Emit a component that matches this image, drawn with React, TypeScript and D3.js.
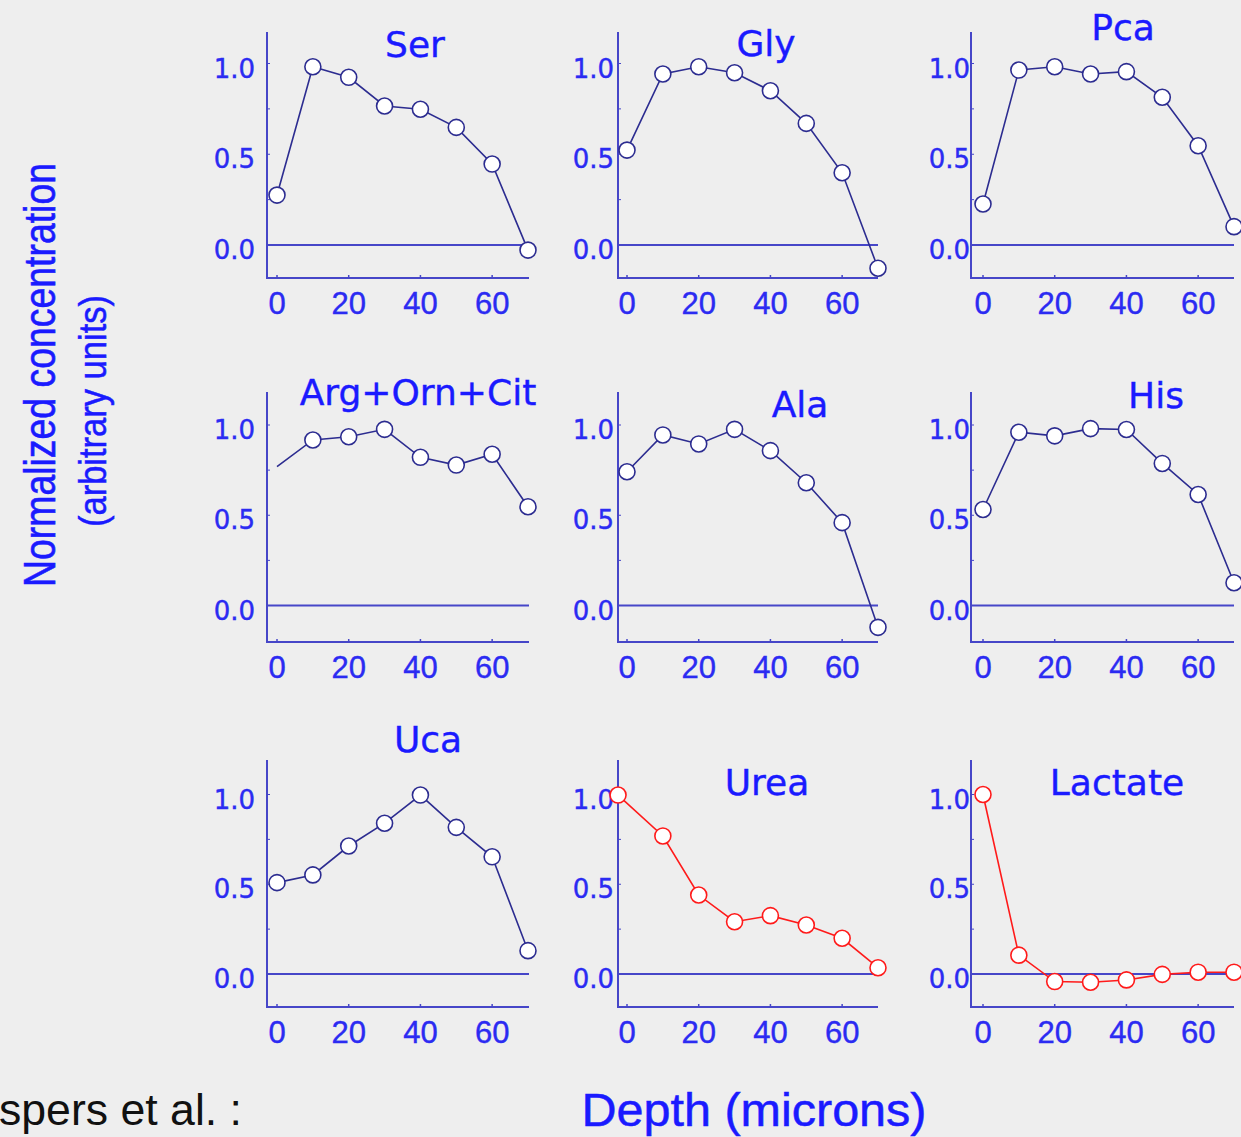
import React from "react";
import * as d3 from "d3";

// depth in microns, shared by all panels
const depth = [0, 10, 20, 30, 40, 50, 60, 70];
const ureaDepth = [-2.5, 10, 20, 30, 40, 50, 60, 70];

// normalized concentrations
const ser = [0.275, 0.982, 0.924, 0.766, 0.748, 0.648, 0.446, -0.028];
const gly = [0.523, 0.942, 0.982, 0.949, 0.85, 0.67, 0.398, -0.128];
const pca = [0.226, 0.964, 0.982, 0.942, 0.955, 0.814, 0.547, 0.101];
const argOrnCit = [0.769, 0.917, 0.935, 0.976, 0.821, 0.778, 0.838, 0.547];
const ala = [0.741, 0.945, 0.895, 0.976, 0.858, 0.68, 0.459, -0.121];
const his = [0.532, 0.96, 0.94, 0.98, 0.975, 0.787, 0.615, 0.126];
const uca = [0.509, 0.552, 0.713, 0.84, 0.997, 0.817, 0.653, 0.13];
const urea = [0.997, 0.769, 0.44, 0.291, 0.325, 0.273, 0.199, 0.035];
const lactate = [1.0, 0.105, -0.042, -0.046, -0.033, -0.002, 0.01, 0.01];

const yTickLabels = ["0.0", "0.5", "1.0"];
const yTicks = [0, 0.5, 1];
const xTicks = [0, 20, 40, 60];

const BLUE_TEXT = "#1a1aff";
const TICK_TEXT = "#2b2bf2";
const AXIS = "#4646c8";
const LINE_BLUE = "#2c2c90";
const RED = "#ff1a1a";

// grid geometry (pixels)
const rows = [
  { zeroY: 245, oneY: 63.5, top: 32, bottom: 278 },
  { zeroY: 605.5, oneY: 425, top: 392, bottom: 642 },
  { zeroY: 974, oneY: 794.5, top: 760, bottom: 1007 },
];
const cols = [
  { axisX: 267, x0: 277, xEnd: 529, labelRight: 255 },
  { axisX: 618, x0: 627, xEnd: 878, labelRight: 614 },
  { axisX: 971, x0: 983, xEnd: 1234, labelRight: 970 },
];

const panels = [
  { name: "Ser", values: ser, x: depth, row: 0, col: 0, tx: 415, ty: 57, color: "blue" },
  { name: "Gly", values: gly, x: depth, row: 0, col: 1, tx: 766, ty: 56, color: "blue" },
  { name: "Pca", values: pca, x: depth, row: 0, col: 2, tx: 1123, ty: 40, color: "blue" },
  { name: "Arg+Orn+Cit", values: argOrnCit, x: depth, row: 1, col: 0, tx: 418, ty: 405, color: "blue", noFirstMarker: true },
  { name: "Ala", values: ala, x: depth, row: 1, col: 1, tx: 800, ty: 417, color: "blue" },
  { name: "His", values: his, x: depth, row: 1, col: 2, tx: 1156, ty: 408, color: "blue" },
  { name: "Uca", values: uca, x: depth, row: 2, col: 0, tx: 428, ty: 752, color: "blue" },
  { name: "Urea", values: urea, x: ureaDepth, row: 2, col: 1, tx: 767, ty: 795, color: "red" },
  { name: "Lactate", values: lactate, x: depth, row: 2, col: 2, tx: 1117, ty: 795, color: "red" },
];

const Panel = ({ p }) => {
  const r = rows[p.row];
  const c = cols[p.col];
  const xScale = d3.scaleLinear().domain([0, 70]).range([c.x0, c.x0 + 251]);
  const yScale = d3.scaleLinear().domain([0, 1]).range([r.zeroY, r.oneY]);
  const pts = p.values.map((v, i) => [p.x[i], v]);
  const line = d3
    .line()
    .x((d) => xScale(d[0]))
    .y((d) => yScale(d[1]));
  const stroke = p.color === "red" ? RED : LINE_BLUE;

  return (
    <g>
      {/* axes */}
      <line x1={c.axisX} x2={c.axisX} y1={r.top} y2={r.bottom} stroke={AXIS} strokeWidth={2} />
      <line x1={c.axisX - 1} x2={c.xEnd} y1={r.bottom} y2={r.bottom} stroke={AXIS} strokeWidth={2} />
      <line x1={c.axisX} x2={c.xEnd} y1={yScale(0)} y2={yScale(0)} stroke={AXIS} strokeWidth={2} />

      {/* small ticks */}
      {d3.range(0, 1.01, 0.25).map((t) => (
        <line key={"yt" + t} x1={c.axisX} x2={c.axisX + 3} y1={yScale(t)} y2={yScale(t)} stroke={AXIS} strokeWidth={1} />
      ))}
      {xTicks.map((t) => (
        <line key={"xt" + t} x1={xScale(t)} x2={xScale(t)} y1={r.bottom} y2={r.bottom - 3} stroke={AXIS} strokeWidth={1.5} />
      ))}

      {/* tick labels */}
      {yTicks.map((t, i) => (
        <text
          key={"yl" + t}
          x={c.labelRight}
          y={yScale(t) + 14}
          textAnchor="end"
          fontFamily="DejaVu Sans, Verdana, sans-serif"
          fontSize={26}
          fill={TICK_TEXT}
          stroke={TICK_TEXT}
          strokeWidth={0.4}
        >
          {yTickLabels[i]}
        </text>
      ))}
      {xTicks.map((t) => (
        <text
          key={"xl" + t}
          x={xScale(t)}
          y={r.bottom + 36}
          textAnchor="middle"
          fontFamily="Liberation Sans, Arial, sans-serif"
          fontSize={31}
          fill={TICK_TEXT}
          stroke={TICK_TEXT}
          strokeWidth={0.4}
        >
          {t}
        </text>
      ))}

      {/* title */}
      <text
        x={p.tx}
        y={p.ty}
        textAnchor="middle"
        fontFamily="DejaVu Sans, Verdana, sans-serif"
        fontSize={36}
        fill={BLUE_TEXT}
        stroke={BLUE_TEXT}
        strokeWidth={0.4}
      >
        {p.name}
      </text>

      {/* data */}
      <path d={line(pts)} fill="none" stroke={stroke} strokeWidth={1.6} />
      {pts.map((d, i) =>
        p.noFirstMarker && i === 0 ? null : (
          <circle
            key={i}
            cx={xScale(d[0])}
            cy={yScale(d[1])}
            r={8}
            fill="#ffffff"
            stroke={stroke}
            strokeWidth={1.6}
          />
        )
      )}
    </g>
  );
};

export default function App() {
  const width = 1241;
  const height = 1137;
  return (
    <svg
      width={width}
      height={height}
      style={{ position: "absolute", left: 0, top: 0, background: "#eeeeee" }}
    >
      <rect width={width} height={height} fill="#eeeeee" />
      {panels.map((p) => (
        <Panel key={p.name} p={p} />
      ))}

      <g transform="translate(55,375) rotate(-90)">
        <text
          textAnchor="middle"
          fontFamily="Liberation Sans, Arial, sans-serif"
          fontSize={45}
          textLength={424}
          lengthAdjust="spacingAndGlyphs"
          fill={BLUE_TEXT}
          stroke={BLUE_TEXT}
          strokeWidth={0.6}
        >
          Normalized concentration
        </text>
      </g>
      <g transform="translate(106,411) rotate(-90)">
        <text
          textAnchor="middle"
          fontFamily="Liberation Sans, Arial, sans-serif"
          fontSize={38}
          textLength={232}
          lengthAdjust="spacingAndGlyphs"
          fill={BLUE_TEXT}
          stroke={BLUE_TEXT}
          strokeWidth={0.5}
        >
          (arbitrary units)
        </text>
      </g>

      <text
        x={754}
        y={1126}
        textAnchor="middle"
        fontFamily="Liberation Sans, Arial, sans-serif"
        fontSize={46}
        textLength={345}
        lengthAdjust="spacingAndGlyphs"
        fill={BLUE_TEXT}
        stroke={BLUE_TEXT}
        strokeWidth={0.5}
      >
        Depth (microns)
      </text>

      <text
        x={-1}
        y={1125}
        fontFamily="Liberation Sans, Arial, sans-serif"
        fontSize={44}
        textLength={243}
        lengthAdjust="spacingAndGlyphs"
        fill="#111111"
      >
        spers et al. :
      </text>
    </svg>
  );
}
